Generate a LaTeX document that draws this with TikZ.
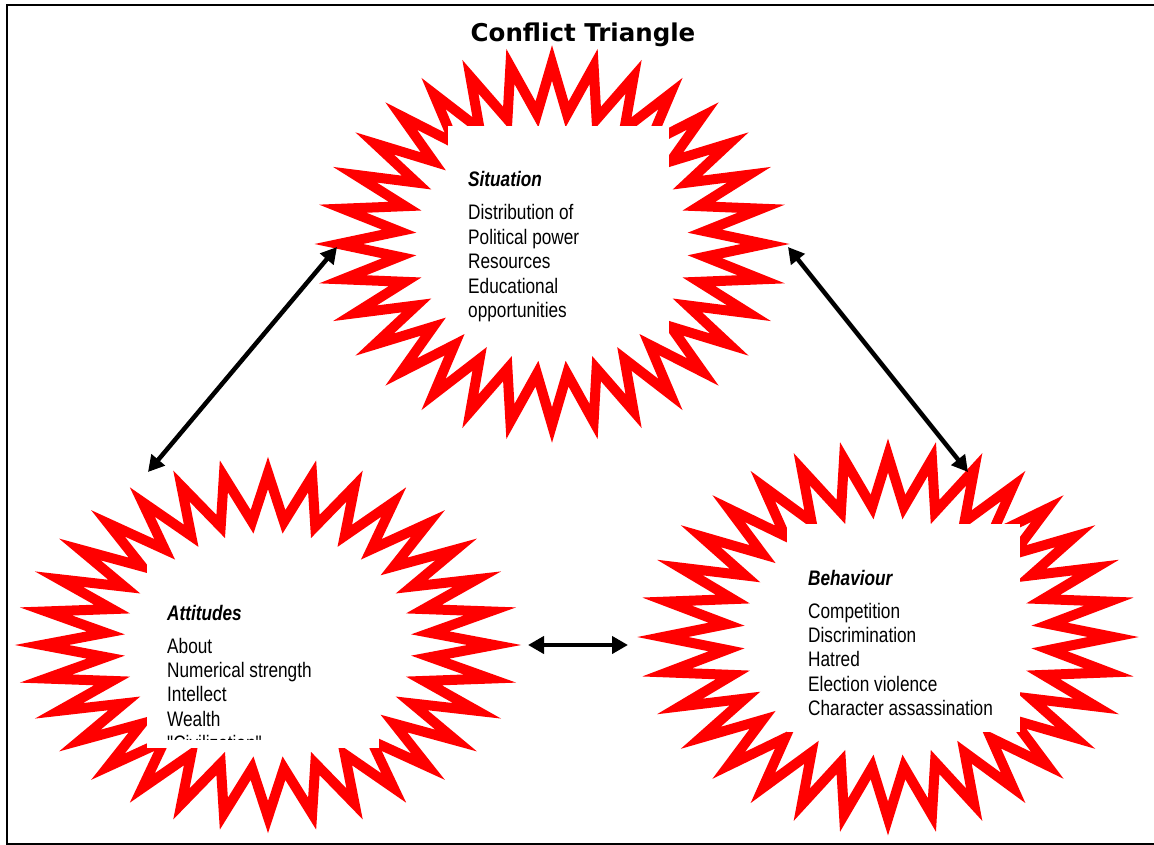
\documentclass[tikz,border=0pt]{standalone}
\usepackage{fontspec}
\setmainfont{Liberation Sans}
\newfontfamily\narrowfont[FakeStretch=0.82]{Liberation Sans}
\newfontfamily\titlefont{DejaVu Sans}
\usetikzlibrary{arrows.meta}
\tikzset{
  burst/.style={draw=red, line width=10pt, fill=white, line join=miter, miter limit=12},
  cover/.style={fill=white},
  conn/.style={line width=4.5pt, {Triangle[length=16pt,width=17pt]}-{Triangle[length=16pt,width=17pt]}},
  txt/.style={inner sep=0pt, anchor=base west, text=black},
  frame/.style={line width=2pt}
}
\newcommand\starburst[4]{% cx, cy, rx, ry
  \draw[burst] plot[domain=0:63, samples=64, variable=\i]
    ({#1+(0.86+0.14*cos(\i*180))*#3*cos(\i*5.625)},
     {#2+(0.86+0.14*cos(\i*180))*#4*sin(\i*5.625)}) -- cycle;
}
\newcommand\textblock[2]{\vtop{\narrowfont\fontsize{21pt}{24.4pt}\selectfont
  \hbox{\bfseries\itshape #1}\vskip8.6pt #2}}
\begin{document}
\begin{tikzpicture}[x=1pt, y=-1pt]
\useasboundingbox (0,0) rectangle (1154,845);
\draw[frame] (7,5) rectangle (1160,843.5);
\node[anchor=base, inner sep=0pt] (title) at (583,42) {\titlefont\bfseries\fontsize{24.5pt}{28pt}\selectfont Conflict Triangle};

% Situation
\starburst{552}{244}{213.3}{181}
\fill[cover] (448,126) rectangle (669,333);
\node[txt] (sit) at (468,187) {\textblock{Situation}{\hbox{Distribution of}\hbox{Political power}\hbox{Resources}\hbox{Educational}\hbox{opportunities}}};

% Attitudes
\starburst{268}{645}{226.3}{172}
\fill[cover] (147,563) rectangle (379,748);
\begin{scope}
\clip (147,563) rectangle (379,739);
\node[txt] (att) at (167,620) {\textblock{Attitudes}{\hbox{About}\hbox{Numerical strength}\hbox{Intellect}\hbox{Wealth}\hbox{"Civilization"}}};
\end{scope}

% Behaviour
\starburst{888}{637}{225.3}{181.5}
\fill[cover] (787,524) rectangle (1020,732);
\node[txt] (beh) at (808,585) {\textblock{Behaviour}{\hbox{Competition}\hbox{Discrimination}\hbox{Hatred}\hbox{Election violence}\hbox{Character assassination}}};

% connectors
\coordinate (sitL) at (337,247);
\coordinate (attT) at (148,472);
\coordinate (sitR) at (788,247);
\coordinate (behT) at (968,472);
\coordinate (attR) at (528,645);
\coordinate (behL) at (628,645);
\draw[conn] (attT) -- (sitL);
\draw[conn] (sitR) -- (behT);
\draw[conn] (attR) -- (behL);
\end{tikzpicture}
\end{document}
